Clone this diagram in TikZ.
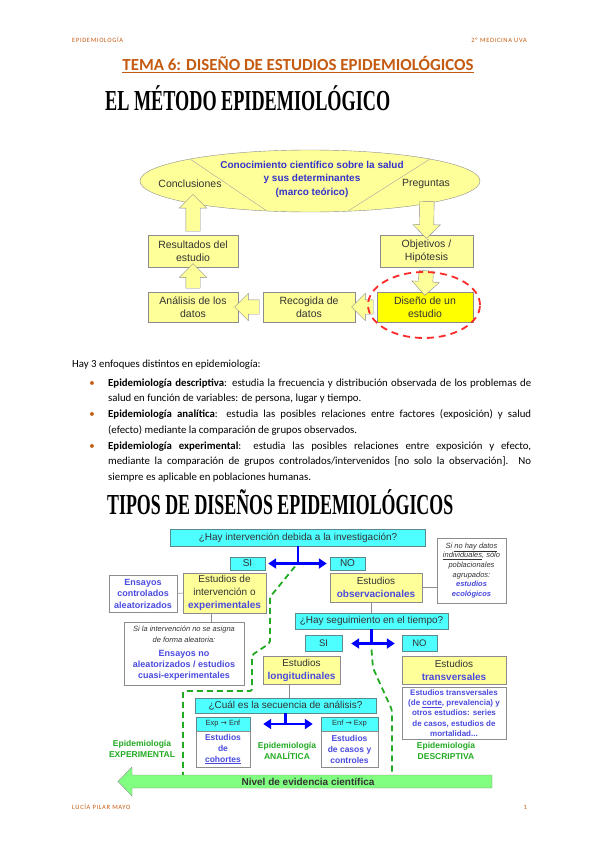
\documentclass[tikz,border=0pt]{standalone}
\usepackage{graphicx}
\usepackage{fontspec}
\setmainfont{Carlito}
\newfontfamily\arialf{Liberation Sans}
\newfontfamily\headf{Liberation Serif}
\newfontfamily\symf{DejaVu Sans}
\usetikzlibrary{calc,shapes.geometric,shapes.arrows,arrows.meta}

\definecolor{orangeh}{HTML}{C55A11}
\definecolor{paleyel}{HTML}{FFFF99}
\definecolor{brightyel}{HTML}{FFFF00}
\definecolor{boxgray}{HTML}{8C8C8C}
\definecolor{textgray}{HTML}{333333}
\definecolor{txtblue}{HTML}{3333CC}
\definecolor{lblue}{HTML}{4A4ADF}
\definecolor{cyanf}{HTML}{4DFFFF}
\definecolor{cyanb}{HTML}{5A8A8A}
\definecolor{epigreen}{HTML}{22AA22}
\definecolor{arrgreen}{HTML}{80FF80}
\definecolor{dashred}{HTML}{FF2A2A}
\definecolor{tblue}{HTML}{0000FF}

\newcommand{\blockarrow}[2]{%
  \path let \p1=(#1), \p2=(#2), \n1={veclen(\x2-\x1,\y2-\y1)}, \n2={atan2(\y2-\y1,\x2-\x1)} in
    node[blk, minimum height=\n1, rotate=\n2] at ($(#1)!0.5!(#2)$) {};}

\begin{document}
\begin{tikzpicture}[x=1pt, y=-1pt,
  ybox/.style={draw=boxgray, fill=paleyel, inner sep=1pt, align=center, text=textgray, font=\arialf\fontsize{10.5}{13}\selectfont},
  wbox/.style={draw=boxgray, fill=white, inner sep=1pt, align=center},
  cbox/.style={draw=cyanb, fill=cyanf, inner sep=0pt, align=center, text=textgray, font=\arialf\fontsize{10}{12}\selectfont},
  blk/.style={single arrow, draw=boxgray, fill=paleyel, inner xsep=0pt, inner ysep=7pt, single arrow head extend=6.5pt, single arrow tip angle=90},
  link/.style={draw=boxgray, line width=0.6pt},
  bline/.style={draw=tblue, line width=2.4pt},
  tarrow/.style={bline, {Triangle[length=8pt,width=10pt]}-{Triangle[length=8pt,width=10pt]}},
  gdash/.style={draw=epigreen, line width=1.8pt, dash pattern=on 6pt off 4pt},
  glabel/.style={text=epigreen, align=center, font=\arialf\bfseries\fontsize{8.5}{11.5}\selectfont},
  bluebold/.style={text=lblue, align=center, font=\arialf\bfseries\fontsize{9}{11.5}\selectfont},
  para/.style={anchor=base west, inner sep=0pt, text width=423pt, align=justify, font=\fontsize{10.8}{15.5}\selectfont},
  bullet/.style={anchor=base, inner sep=0pt, text=orangeh, font=\fontsize{10.8}{15.5}\selectfont}]
\useasboundingbox (0,0) rectangle (599,848);
\fill[white] (0,0) rectangle (599,848);

% cabecera y pie
\node[anchor=base west, inner sep=0pt, text=orangeh, font=\fontsize{6.5}{8}\selectfont\addfontfeature{LetterSpace=10}] (hizq) at (72,43) {EPIDEMIOLOGÍA};
\node[anchor=base east, inner sep=0pt, text=orangeh, font=\fontsize{6.5}{8}\selectfont\addfontfeature{LetterSpace=10}] (hder) at (527,43) {2º MEDICINA UVA};
\node[anchor=base west, inner sep=0pt, text=orangeh, font=\fontsize{6.5}{8}\selectfont\addfontfeature{LetterSpace=10}] (pizq) at (72,809) {LUCÍA PILAR MAYO};
\node[anchor=base east, inner sep=0pt, text=orangeh, font=\fontsize{6.5}{8}\selectfont] (pder) at (527,809) {1};

\node[anchor=base, text=orangeh, font=\bfseries\fontsize{16.9}{20}\selectfont] (tema) at (298,70.5) {\underline{TEMA 6: DISEÑO DE ESTUDIOS EPIDEMIOLÓGICOS}};
\node[anchor=base west, inner sep=0pt, font=\headf\bfseries\fontsize{29}{30}\selectfont] (metodo) at (105,111) {\resizebox{285pt}{\height}{EL MÉTODO EPIDEMIOLÓGICO}};

% ciclo del metodo
\node[ellipse, draw=boxgray, fill=paleyel, minimum width=340, minimum height=62] (marco) at (310,181) {};
\draw[boxgray!80, line width=0.4pt] (190,159) -- (267,211);
\draw[boxgray!80, line width=0.4pt] (430,159) -- (348,211);
\node[text=textgray, font=\arialf\fontsize{10.5}{13}\selectfont] (concl) at (190,184) {Conclusiones};
\node[text=textgray, font=\arialf\fontsize{10.5}{13}\selectfont] (preg) at (426,184) {Preguntas};
\node[text=txtblue, align=center, font=\arialf\bfseries\fontsize{10}{13.5}\selectfont] (conoc) at (312,179) {Conocimiento científico sobre la salud\\y sus determinantes\\(marco teórico)};

\node[ybox, minimum width=90, minimum height=32] (res) at (193,251) {Resultados del\\estudio};
\node[ybox, minimum width=93, minimum height=32] (obj) at (426.5,251) {Objetivos /\\Hipótesis};
\node[ybox, minimum width=90, minimum height=30] (ana) at (193,307) {Análisis de los\\datos};
\node[ybox, minimum width=92, minimum height=30] (rec) at (309,307) {Recogida de\\datos};
\node[ybox, fill=brightyel, minimum width=96, minimum height=30] (dis) at (425,307) {Diseño de un\\estudio};
\coordinate (ellL) at (193,198);
\coordinate (ellR) at (427,198);
\blockarrow{res.north}{ellL}
\blockarrow{ana.north}{res.south}
\blockarrow{ellR}{obj.north}
\blockarrow{obj.south}{dis.north}
\blockarrow{rec.west}{ana.east}
\blockarrow{dis.west}{rec.east}
\node[ellipse, draw=dashred, line width=1.8pt, dash pattern=on 7pt off 5pt, minimum width=112, minimum height=66] (foco) at (424,305) {};

% enfoques
\node[anchor=base west, inner sep=0pt, font=\fontsize{10.8}{15.5}\selectfont] (intro) at (72,367.5) {Hay 3 enfoques distintos en epidemiología:};
\node[bullet] (b1) at (92,386) {•};
\node[para] (desc) at (108,386) {\textbf{Epidemiología descriptiva}: estudia la frecuencia y distribución observada de los problemas de\linebreak salud en función de variables: de persona, lugar y tiempo.};
\node[bullet] (b2) at (92,417.5) {•};
\node[para] (anal) at (108,417.5) {\textbf{Epidemiología analítica}: estudia las posibles relaciones entre factores (exposición) y salud\linebreak (efecto) mediante la comparación de grupos observados.};
\node[bullet] (b3) at (92,449) {•};
\node[para] (expe) at (108,449) {\textbf{Epidemiología experimental}: estudia las posibles relaciones entre exposición y efecto,\linebreak mediante la comparación de grupos controlados/intervenidos [no solo la observación]. No\linebreak siempre es aplicable en poblaciones humanas.};

\node[anchor=base west, inner sep=0pt, font=\headf\bfseries\fontsize{29}{30}\selectfont] (tipos) at (107,514) {\resizebox{346pt}{\height}{TIPOS DE DISEÑOS EPIDEMIOLÓGICOS}};

% arbol de disenos
\node[cbox, minimum width=255, minimum height=17] (q1) at (298,537.5) {¿Hay intervención debida a la investigación?};
\node[cbox, minimum width=35, minimum height=13] (si1) at (247.5,563.5) {SI};
\node[cbox, minimum width=35, minimum height=13] (no1) at (347.5,563.5) {NO};
\draw[bline] (q1.south) -- (q1.south |- si1.east) coordinate (j1);
\draw[tarrow, shorten <=3pt, shorten >=3pt] (si1.east) -- (no1.west);

\node[wbox, minimum width=68, minimum height=37, bluebold] (ens) at (143,593.5) {Ensayos\\controlados\\aleatorizados};
\node[ybox, font=\arialf\fontsize{10}{13}\selectfont, minimum width=83, minimum height=40] (expt) at (224.5,593) {Estudios de\\intervención o\\\textcolor{lblue}{\bfseries experimentales}};
\node[ybox, font=\arialf\fontsize{10}{13}\selectfont, minimum width=92, minimum height=29] (obs) at (376,587.5) {Estudios\\\textcolor{lblue}{\bfseries observacionales}};
\node[wbox, minimum width=69, minimum height=65, text=textgray, font=\arialf\itshape\fontsize{7.5}{9.7}\selectfont] (eco) at (471.5,570.5) {Si \underline{no hay datos}\\\underline{individuales}, sólo\\poblacionales\\agrupados:\\\textcolor{lblue}{\bfseries estudios}\\\textcolor{lblue}{\bfseries ecológicos}};
\draw[link] (ens.east) -- (expt.west);
\draw[link] (obs.east) -- (obs.east -| eco.west);

\node[cbox, minimum width=153, minimum height=16] (q2) at (371.5,621) {¿Hay seguimiento en el tiempo?};
\draw[link] (obs.south -| q2.north) -- (q2.north);
\node[cbox, font=\arialf\fontsize{9.5}{11}\selectfont, minimum width=37, minimum height=16] (si2) at (323.5,643.5) {SI};
\node[cbox, font=\arialf\fontsize{9.5}{11}\selectfont, minimum width=35, minimum height=16] (no2) at (419.5,643.5) {NO};
\draw[bline] (q2.south) -- (q2.south |- si2.east) coordinate (j2);
\draw[tarrow, shorten <=9pt, shorten >=7pt] (si2.east) -- (no2.west);

\node[wbox, minimum width=120, minimum height=63, text=textgray, font=\arialf\fontsize{9}{11}\selectfont] (cuasi) at (184,653.5) {\textit{\fontsize{7.5}{10}\selectfont Si la intervención no se asigna}\\\textit{\fontsize{7.5}{10}\selectfont de forma aleatoria:}\\[3pt]\textcolor{lblue}{\bfseries Ensayos no}\\\textcolor{lblue}{\bfseries aleatorizados / estudios}\\\textcolor{lblue}{\bfseries cuasi-experimentales}};
\draw[link] ([xshift=-13.5pt]expt.south) -- ([xshift=-13.5pt]expt.south |- cuasi.north);

\node[ybox, font=\arialf\fontsize{10}{13}\selectfont, minimum width=77, minimum height=28] (lon) at (301.5,670) {Estudios\\\textcolor{lblue}{\bfseries longitudinales}};
\node[ybox, font=\arialf\fontsize{10}{13}\selectfont, minimum width=104, minimum height=28] (tra) at (454,670) {Estudios\\\textcolor{lblue}{\bfseries transversales}};
\node[wbox, minimum width=104, minimum height=52, bluebold, font=\arialf\bfseries\fontsize{8}{10.3}\selectfont] (tranota) at (454,713) {Estudios transversales\\(de \underline{corte}, prevalencia) y\\otros estudios: series\\de casos, estudios de\\mortalidad...};

\node[cbox, minimum width=181, minimum height=15] (q3) at (285.5,705.5) {¿Cuál es la secuencia de análisis?};
\draw[link] ([xshift=-12.5pt]lon.south) -- ([xshift=-12.5pt]lon.south |- q3.north);
\node[cbox, font=\arialf\fontsize{7.5}{9}\selectfont, minimum width=54, minimum height=14] (ee) at (223,724) {Exp {\symf →} Enf};
\node[cbox, font=\arialf\fontsize{7.5}{9}\selectfont, minimum width=57, minimum height=14] (ex) at (349.5,724) {Enf {\symf →} Exp};
\draw[bline] (q3.south) -- (q3.south |- ee.east) coordinate (j3);
\draw[tarrow, shorten <=13pt, shorten >=8pt] (ee.east) -- (ex.west);
\node[wbox, minimum width=54, minimum height=36, bluebold, font=\arialf\bfseries\fontsize{8.5}{11}\selectfont] (coh) at (223,749) {Estudios\\de\\\underline{cohortes}};
\node[wbox, minimum width=57, minimum height=36, bluebold, font=\arialf\bfseries\fontsize{8.5}{11}\selectfont] (cas) at (349.5,749) {Estudios\\de casos y\\controles};

\node[glabel] (gexp) at (142,749) {Epidemiología\\EXPERIMENTAL};
\node[glabel] (gana) at (287,751) {Epidemiología\\ANALÍTICA};
\node[glabel] (gdes) at (446,751) {Epidemiología\\DESCRIPTIVA};

% separaciones
\draw[gdash, rounded corners=2pt] ($(j1)+(-3,3)$) -- (270,597) -- (270,643) -- (252,655) -- (252,691) -- (183,691) -- (183,775);
\draw[gdash, rounded corners=2pt] ($(j2)+(0,6)$) -- (373,668) -- (392,710) -- (392,775);

% nivel de evidencia
\draw[draw=boxgray, fill=arrgreen] (492,775) -- (132,775) -- (132,767) -- (118,781.5) -- (132,796) -- (132,788) -- (492,788) -- cycle;
\node[text=textgray, font=\arialf\bfseries\fontsize{10}{12}\selectfont] (nivel) at (308,781.5) {Nivel de evidencia científica};
\end{tikzpicture}
\end{document}
